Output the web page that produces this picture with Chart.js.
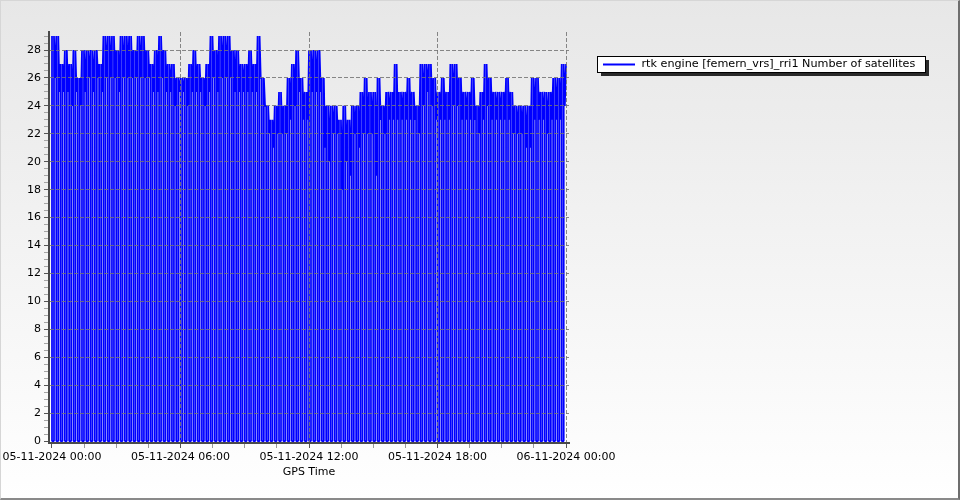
<!DOCTYPE html>
<html>
<head>
<meta charset="utf-8">
<script src="https://cdn.jsdelivr.net/npm/chart.js@4.4.1/dist/chart.umd.min.js"></script>
<style>
  html, body { margin: 0; padding: 0; }
  #wrap { position: relative; width: 960px; height: 500px; background: linear-gradient(#e7e7e7, #ffffff); overflow: hidden; }
  #c { position: absolute; left: 0; top: 0; }
  #frame { position: absolute; left: 0; top: 0; width: 960px; height: 500px; box-sizing: border-box;
           border-style: solid; border-width: 1px 2px 2px 1px; border-color: #d6d6d6 #6e6e6e #8a8a8a #d6d6d6; pointer-events: none; }
</style>
</head>
<body>
<div id="wrap">
  <canvas id="c" width="960" height="500"></canvas>
  <div id="frame"></div>
</div>
<script>
// ---- data (one entry per 12-minute drop cycle, 05-11-2024 00:00 -> 06-11-2024 00:00)
const seriesLabel = 'rtk engine [femern_vrs]_rri1 Number of satellites';
const xTitle = 'GPS Time';
const xTickLabels = ['05-11-2024 00:00', '05-11-2024 06:00', '05-11-2024 12:00', '05-11-2024 18:00', '06-11-2024 00:00'];
const xTickHours = [0, 1.5, 3, 4.5, 6, 7.5, 9, 10.5, 12, 13.5, 15, 16.5, 18, 19.5, 21, 22.5, 24];
const yTickValues = [0,0.5,1,1.5,2,2.5,3,3.5,4,4.5,5,5.5,6,6.5,7,7.5,8,8.5,9,9.5,10,10.5,11,11.5,12,12.5,13,13.5,14,14.5,15,15.5,16,16.5,17,17.5,18,18.5,19,19.5,20,20.5,21,21.5,22,22.5,23,23.5,24,24.5,25,25.5,26,26.5,27,27.5,28,28.5,29];
const cycleMinutes = 12;
// minute offsets inside a cycle: drop to 0, recover, dip to the cycle's low value
const dropAt = 0, recoverAt = 5.6, dipAt = 8.8;

// highest satellite count in each cycle
const satHigh = [
  29,29,27,28,27,28,26,28,28,28, 28,27,29,29,29,28,29,29,29,28,
  29,29,28,27,28,29,28,27,27,26,
  26,26,27,28,27,26,27,29,28,29, 29,29,28,28,27,27,28,27,29,26,
  24,23,24,25,24,26,27,28,26,25, 28,28,28,26,24,24,24,23,24,23,
  24,24,
  25,26,25,25,26,24,25,25,27,25, 25,26,25,24,27,27,27,26,25,26,
  25,27,27,26,25,25,26,24,25,27, 26,25,25,25,26,25,24,24,24,24,
  26,26,25,25,25,26,26,27
];
// lowest (non-zero) satellite count in each cycle
const satLow = [
  26,25,25,25,24,25,24,25,26,25, 26,25,26,26,26,25,26,26,26,26,
  26,26,26,25,25,26,25,25,24,25,
  25,24,25,25,25,24,25,26,25,26, 26,26,25,25,25,25,25,25,26,24,
  22,21,22,22,22,23,24,25,23,23, 25,25,25,21,20,22,22,18,20,19,
  22,21,
  22,22,22,19,23,22,23,23,23,23, 23,23,23,22,24,25,24,23,23,23,
  23,24,24,23,23,23,23,22,23,24, 23,23,23,23,23,22,22,22,21,21,
  23,23,23,22,23,23,23,24
];
const endValue = 27;

// build the line: each cycle drops to 0 satellites and recovers
const points = [];
for (let k = 0; k < satHigh.length; k++) {
  const t = (k * cycleMinutes) / 60;
  points.push({ x: t + dropAt / 60, y: satHigh[k] });
  points.push({ x: t + dropAt / 60, y: 0 });
  points.push({ x: t + recoverAt / 60, y: 0 });
  points.push({ x: t + recoverAt / 60, y: satHigh[k] });
  points.push({ x: t + dipAt / 60, y: satLow[k] });
}
points.push({ x: 24, y: endValue });

const tickFont = { family: 'DejaVu Sans', size: 11 };
const gridCol = 'rgba(115,115,115,0.85)';

const boxLegend = {
  id: 'boxLegend',
  afterDraw(chart) {
    const ctx = chart.ctx;
    const ds = chart.data.datasets[0];
    ctx.save();
    ctx.fillStyle = '#2a2a2a';
    ctx.fillRect(926, 60, 3, 16);
    ctx.fillRect(601, 73, 328, 3);
    ctx.fillStyle = '#ffffff';
    ctx.fillRect(597, 56, 329, 17);
    ctx.strokeStyle = '#000000';
    ctx.lineWidth = 1;
    ctx.strokeRect(597.5, 56.5, 328, 16);
    ctx.strokeStyle = ds.borderColor;
    ctx.lineWidth = 2;
    ctx.beginPath();
    ctx.moveTo(603, 64.5);
    ctx.lineTo(635, 64.5);
    ctx.stroke();
    ctx.fillStyle = '#000000';
    ctx.font = '11.2px "DejaVu Sans"';
    ctx.textBaseline = 'middle';
    ctx.textAlign = 'left';
    ctx.fillText(ds.label, 641.5, 64.5);
    ctx.restore();
  }
};

new Chart(document.getElementById('c'), {
  type: 'line',
  data: {
    datasets: [{
      label: seriesLabel,
      data: points,
      borderColor: '#0000ff',
      backgroundColor: '#0000ff',
      borderWidth: 1.75,
      borderJoinStyle: 'bevel',
      pointRadius: 0,
      tension: 0,
      fill: false
    }]
  },
  options: {
    responsive: false,
    animation: false,
    devicePixelRatio: 1,
    layout: { padding: { left: 0, right: 391, top: 32, bottom: 0 } },
    plugins: { legend: { display: false }, tooltip: { enabled: false } },
    scales: {
      x: {
        type: 'linear',
        min: -0.14,
        max: 24.14,
        afterBuildTicks: s => { s.ticks = xTickHours.map(v => ({ value: v })); },
        afterFit: s => { s.height = 57; s.paddingLeft = 0; s.paddingRight = 0; },
        ticks: {
          autoSkip: false, maxRotation: 0, minRotation: 0,
          font: tickFont, color: '#000000', padding: 3,
          callback: v => (v % 6 === 0 ? xTickLabels[v / 6] : '')
        },
        grid: {
          z: 1,
          lineWidth: 1,
          tickLength: 5,
          color: c => (c.tick && c.tick.value > 0 && c.tick.value % 6 === 0) ? gridCol : 'rgba(0,0,0,0)',
          tickColor: c => (c.tick && c.tick.value % 6 === 0) ? '#555555' : '#9a9a9a'
        },
        border: { display: true, color: '#4a4a4a', width: 2, dash: [4, 2], z: 1 },
        title: { display: true, text: xTitle, font: tickFont, color: '#000000', padding: { top: 0, bottom: 21 } }
      },
      y: {
        type: 'linear',
        min: -0.143,
        max: 29.29,
        afterBuildTicks: s => { s.ticks = yTickValues.map(v => ({ value: v })); },
        afterFit: s => { s.width = 49; s.paddingTop = 0; s.paddingBottom = 0; },
        ticks: {
          autoSkip: false,
          font: tickFont, color: '#000000', padding: 3,
          callback: v => (v % 2 === 0 ? String(v) : '')
        },
        grid: {
          z: 1,
          lineWidth: 1,
          tickLength: 5,
          color: c => (c.tick && c.tick.value > 0 && c.tick.value % 2 === 0) ? gridCol : 'rgba(0,0,0,0)',
          tickColor: c => (c.tick && c.tick.value % 2 === 0) ? '#555555' : '#a5a5a5'
        },
        border: { display: true, color: '#4a4a4a', width: 2, dash: [4, 2], z: 1 }
      }
    }
  },
  plugins: [boxLegend]
});
</script>
</body>
</html>
